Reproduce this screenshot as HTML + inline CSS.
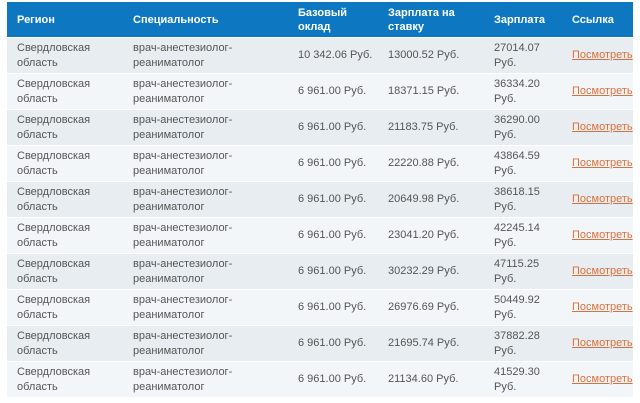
<!DOCTYPE html>
<html><head><meta charset="utf-8"><style>
body{margin:0;width:640px;height:403px;background:#fff;overflow:hidden;font-family:"Liberation Sans","DejaVu Sans",sans-serif;}
table{position:absolute;left:7px;top:2px;width:626px;border-collapse:collapse;table-layout:fixed;font-size:11px;color:#555;}
th{background:#0d78c1;color:#fff;font-weight:bold;text-align:left;height:35px;padding:0 0 0 10px;line-height:14px;vertical-align:middle;white-space:nowrap;}
td{height:35px;padding:0 0 0 10px;line-height:15px;vertical-align:middle;border-top:1px solid #fff;white-space:nowrap;overflow:hidden;}
tr.a td{background:#e8edf1;}
tr.b td{background:#f3f6f8;}
a{color:#e0703a;text-decoration:underline;}
</style></head><body>
<table>
<colgroup><col style="width:116px"><col style="width:165px"><col style="width:90px"><col style="width:106px"><col style="width:78px"><col style="width:71px"></colgroup>
<thead><tr>
<th>Регион</th>
<th>Специальность</th>
<th>Базовый<br>оклад</th>
<th>Зарплата на<br>ставку</th>
<th>Зарплата</th>
<th>Ссылка</th>
</tr></thead>
<tbody id="tb"></tbody></table>
<script>
const bases=["10 342.06","6 961.00","6 961.00","6 961.00","6 961.00","6 961.00","6 961.00","6 961.00","6 961.00","6 961.00"];
const rates=["13000.52","18371.15","21183.75","22220.88","20649.98","23041.20","30232.29","26976.69","21695.74","21134.60"];
const salaries=["27014.07","36334.20","36290.00","43864.59","38618.15","42245.14","47115.25","50449.92","37882.28","41529.30"];
const tb=document.getElementById('tb');
bases.forEach((b,i)=>{
const tr=document.createElement('tr');
tr.className=i%2?'b':'a';


tr.innerHTML='<td>Свердловская<br>область</td>'+
'<td>врач-анестезиолог-<br>реаниматолог</td>'+
'<td>'+b+' Руб.</td>'+
'<td>'+rates[i]+' Руб.</td>'+
'<td>'+salaries[i]+'<br>Руб.</td>'+
'<td><a>Посмотреть</a></td>';
tb.appendChild(tr);
});
</script>
</body></html>
